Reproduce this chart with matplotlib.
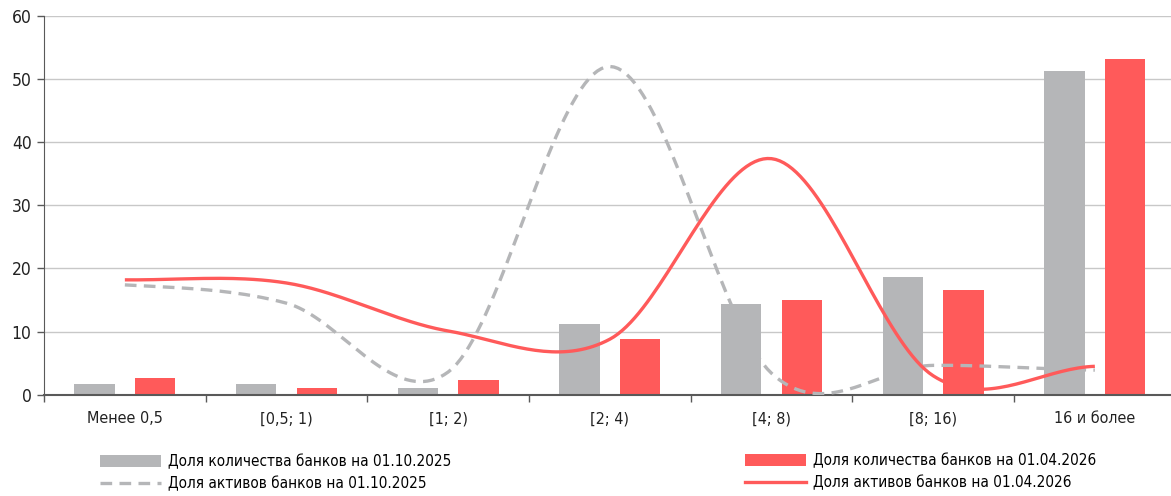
"""Bank shares by size group: counts (bars) and assets (smoothed lines)."""
import numpy as np
import matplotlib
matplotlib.use("Agg")
import matplotlib.pyplot as plt
from matplotlib.lines import Line2D
from matplotlib.patches import Patch

categories = ["Менее 0,5", "[0,5; 1)", "[1; 2)", "[2; 4)", "[4; 8)", "[8; 16)", "16 и более"]
count_2025 = [1.7, 1.7, 1.1, 11.2, 14.3, 18.7, 51.3]
count_2026 = [2.7, 1.1, 2.4, 8.9, 15.0, 16.6, 53.2]
assets_2025 = [17.4, 14.5, 3.6, 52.0, 3.4, 4.65, 3.9]
assets_2026 = [18.2, 17.7, 10.1, 8.8, 37.4, 3.0, 4.5]

labels = ["Доля количества банков на 01.10.2025",
          "Доля активов банков на 01.10.2025",
          "Доля количества банков на 01.04.2026",
          "Доля активов банков на 01.04.2026"]

GRAY = "#b5b6b8"
RED = "#ff5a5a"
AXIS = "#595959"

plt.rcParams['font.family'] = ['DejaVu Sans']
plt.rcParams['font.stretch'] = 'condensed'


def smooth(y, n=40):
    # Excel-like smoothed line (Catmull-Rom through the points)
    y = np.asarray(y, dtype=float)
    p = np.concatenate([[y[0]], y, [y[-1]]])
    xs, ys = [], []
    for i in range(len(y) - 1):
        p0, p1, p2, p3 = p[i], p[i + 1], p[i + 2], p[i + 3]
        m1 = (p2 - p0) / 2
        m2 = (p3 - p1) / 2
        t = np.linspace(0, 1, n)
        h00 = 2 * t**3 - 3 * t**2 + 1
        h10 = t**3 - 2 * t**2 + t
        h01 = -2 * t**3 + 3 * t**2
        h11 = t**3 - t**2
        xs.append(i + t)
        ys.append(h00 * p1 + h10 * m1 + h01 * p2 + h11 * m2)
    return np.concatenate(xs), np.concatenate(ys)


fig = plt.figure(figsize=(11.71, 4.96), dpi=100)
ax = fig.add_axes([0.0376, 0.2042, 0.9664, 0.7635])

x = np.arange(len(categories))
w = 0.25
off = 0.1875
ax.bar(x - off, count_2025, w, color=GRAY, zorder=2)
ax.bar(x + off, count_2026, w, color=RED, zorder=2)

sx, sy = smooth(assets_2025)
ax.plot(sx, sy, color=GRAY, lw=2.4, dashes=(3.5, 2.2), zorder=3)
sx, sy = smooth(assets_2026)
ax.plot(sx, sy, color=RED, lw=2.4, zorder=3, solid_capstyle='butt')

ax.set_xlim(-0.5, len(categories) - 0.5)
ax.set_ylim(0, 60)
ax.set_yticks(range(0, 61, 10))
ax.yaxis.grid(True, color="#c8c8c8", lw=1.0, zorder=0)
ax.set_axisbelow(True)

ax.set_xticks(np.arange(len(categories) + 1) - 0.5)
ax.set_xticklabels([])
ax.set_xticks(x, minor=True)
ax.set_xticklabels(categories, minor=True)
ax.tick_params(axis='x', which='minor', length=0, pad=12, labelsize=11.5, labelcolor="#222222")
ax.tick_params(axis='x', which='major', length=5, width=1, color=AXIS, direction='out')
ax.tick_params(axis='y', length=5, width=1, color=AXIS, labelsize=12.5, labelcolor="#222222", pad=4)

for s in ["top", "right"]:
    ax.spines[s].set_visible(False)
ax.spines["left"].set_color(AXIS)
ax.spines["bottom"].set_color(AXIS)
ax.spines["bottom"].set_linewidth(1.5)

h_bar25 = Patch(facecolor=GRAY)
h_line25 = Line2D([], [], color=GRAY, lw=2.4, dashes=(3.5, 2.2))
h_bar26 = Patch(facecolor=RED)
h_line26 = Line2D([], [], color=RED, lw=2.4)

common = dict(frameon=False, fontsize=11, handlelength=4.0, handleheight=0.75,
              handletextpad=0.45, labelspacing=0.45, borderpad=0, borderaxespad=0,
              loc='center left')
fig.legend([h_bar25, h_line25], labels[:2], bbox_to_anchor=(100 / 1171, 0.047), **common)
fig.legend([h_bar26, h_line26], labels[2:], bbox_to_anchor=(745 / 1171, 0.049), **common)

fig.savefig("out.png", dpi=100)
